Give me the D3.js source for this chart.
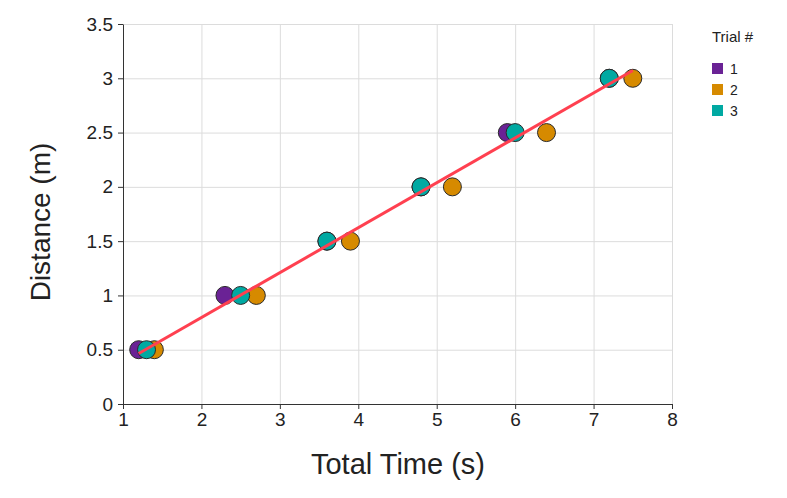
<!DOCTYPE html>
<html>
<head>
<meta charset="utf-8">
<script src="https://cdn.jsdelivr.net/npm/d3@7"></script>
<style>
  body { margin: 0; background: #fff; }
  svg { font-family: "Liberation Sans", Arial, sans-serif; }
  .grid line { stroke: #dcdcdc; stroke-width: 1; }
  .grid path { display: none; }
  .axis path, .axis line { stroke: #333; }
  .axis text { fill: #222; }
</style>
</head>
<body>
<svg id="svg1" width="787" height="498"></svg>
<script>
var width = 787;
var height = 498;

var marginLeft = 123;
var marginTop = 24;
var plotWidth = 549;
var plotHeight = 380;

// trial data: time (s) and distance (m)
var trials = ['1', '2', '3'];
var trialColors = ['#6a2295', '#d68a00', '#00a9a2'];
var distances = [0.5, 1, 1.5, 2, 2.5, 3];
var times1 = [1.2, 2.3, 3.6, 4.8, 5.9, 7.2];
var times2 = [1.4, 2.7, 3.9, 5.2, 6.4, 7.5];
var times3 = [1.3, 2.5, 3.6, 4.8, 6.0, 7.2];

var xTicks = [1, 2, 3, 4, 5, 6, 7, 8];
var yTicks = [0, 0.5, 1, 1.5, 2, 2.5, 3, 3.5];

var allTimes = [times1, times2, times3];
var points = [];
allTimes.forEach(function(ts, i) {
    ts.forEach(function(t, j) {
        points.push({trial: trials[i], time: t, dist: distances[j]});
    });
});

var svg = d3.select('svg')
    .append('g')
    .attr('transform', 'translate(' + marginLeft + ',' + marginTop + ')');

var x = d3.scaleLinear().domain([1, 8]).range([0, plotWidth]);
var y = d3.scaleLinear().domain([0, 3.5]).range([plotHeight, 0]);
var color = d3.scaleOrdinal().domain(trials).range(trialColors);

// grid lines
svg.append('g')
    .attr('class', 'grid')
    .attr('transform', 'translate(0,' + plotHeight + ')')
    .call(d3.axisBottom(x).tickValues(xTicks).tickSize(-plotHeight).tickFormat(''));

svg.append('g')
    .attr('class', 'grid')
    .call(d3.axisLeft(y).tickValues(yTicks).tickSize(-plotWidth).tickFormat(''));

// axes
svg.append('g')
    .attr('class', 'axis')
    .attr('transform', 'translate(0,' + plotHeight + ')')
    .call(d3.axisBottom(x).tickValues(xTicks).tickSize(5).tickPadding(4).tickSizeOuter(0).tickFormat(d3.format('')))
    .attr('font-size', 19)
    .attr('font-family', '"Liberation Sans", Arial, sans-serif');

svg.append('g')
    .attr('class', 'axis')
    .call(d3.axisLeft(y).tickValues(yTicks).tickSize(5).tickPadding(5).tickSizeOuter(0).tickFormat(d3.format('')))
    .attr('font-size', 19)
    .attr('font-family', '"Liberation Sans", Arial, sans-serif');

// points
svg.selectAll('.dot')
    .data(points)
    .enter()
    .append('circle')
    .attr('class', 'dot')
    .attr('cx', function(d) { return x(d.time); })
    .attr('cy', function(d) { return y(d.dist); })
    .attr('r', 9)
    .attr('fill', function(d) { return color(d.trial); })
    .attr('stroke', '#2a2a2a')
    .attr('stroke-width', 1);

// least squares fit over all points
var mx = d3.mean(points, function(d) { return d.time; });
var my = d3.mean(points, function(d) { return d.dist; });
var sxy = d3.sum(points, function(d) { return (d.time - mx) * (d.dist - my); });
var sxx = d3.sum(points, function(d) { return (d.time - mx) * (d.time - mx); });
var slope = sxy / sxx;
var intercept = my - slope * mx;
var ext = d3.extent(points, function(d) { return d.time; });
var fit = ext.map(function(t) { return {time: t, dist: intercept + slope * t}; });

svg.append('path')
    .datum(fit)
    .attr('d', d3.line()
        .x(function(d) { return x(d.time); })
        .y(function(d) { return y(d.dist); }))
    .attr('fill', 'none')
    .attr('stroke', '#ff4050')
    .attr('stroke-width', 3);

// axis titles
d3.select('svg').append('text')
    .attr('x', 398)
    .attr('y', 474)
    .attr('text-anchor', 'middle')
    .attr('font-size', 29)
    .attr('fill', '#222')
    .text('Total Time (s)');

d3.select('svg').append('text')
    .attr('transform', 'translate(50,222) rotate(-90)')
    .attr('text-anchor', 'middle')
    .attr('font-size', 28)
    .attr('fill', '#222')
    .text('Distance (m)');

// legend
var legend = d3.select('svg').append('g')
    .attr('transform', 'translate(712,0)');

legend.append('text')
    .attr('x', 0)
    .attr('y', 42)
    .attr('font-size', 15)
    .attr('fill', '#222')
    .text('Trial #');

var items = legend.selectAll('.item')
    .data(trials)
    .enter()
    .append('g')
    .attr('class', 'item')
    .attr('transform', function(d, i) { return 'translate(0,' + (63 + i * 21) + ')'; });

items.append('rect')
    .attr('width', 11)
    .attr('height', 11)
    .attr('fill', function(d) { return color(d); });

items.append('text')
    .attr('x', 18)
    .attr('y', 11)
    .attr('font-size', 14)
    .attr('fill', '#222')
    .text(function(d) { return d; });
</script>
</body>
</html>
